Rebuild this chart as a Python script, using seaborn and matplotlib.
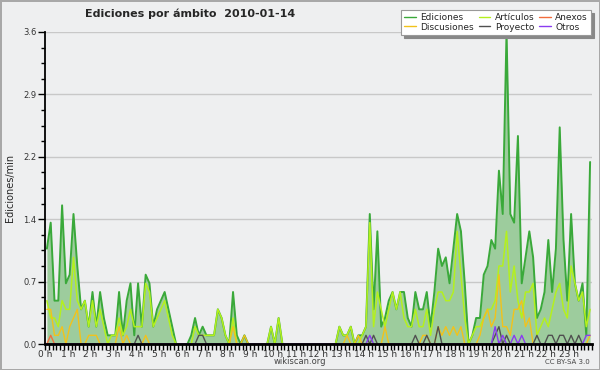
import numpy as np
import pandas as pd
import matplotlib
matplotlib.use("Agg")
import matplotlib.pyplot as plt
from matplotlib.ticker import MultipleLocator, FixedLocator, FormatStrFormatter
import seaborn as sns

# edits per minute, one value per 10-minute slot (144 slots)
ediciones = [1.1, 1.4, 0.5, 0.5, 1.6, 0.7, 0.8, 1.5, 0.9, 0.4,
             0.5, 0.2, 0.6, 0.2, 0.6, 0.3, 0.1, 0.1, 0.1, 0.6,
             0.1, 0.5, 0.7, 0.1, 0.7, 0.2, 0.8, 0.7, 0.2, 0.4,
             0.5, 0.6, 0.4, 0.2, 0.0, 0.0, 0.0, 0.0, 0.1, 0.3,
             0.1, 0.2, 0.1, 0.1, 0.1, 0.4, 0.3, 0.1, 0.0, 0.6,
             0.1, 0.0, 0.1, 0.0, 0.0, 0.0, 0.0, 0.0, 0.0, 0.2,
             0.0, 0.3, 0.0, 0.0, 0.0, 0.0, 0.0, 0.0, 0.0, 0.0,
             0.0, 0.0, 0.0, 0.0, 0.0, 0.0, 0.0, 0.2, 0.1, 0.1,
             0.2, 0.0, 0.1, 0.1, 0.2, 1.5, 0.4, 1.3, 0.2, 0.3,
             0.5, 0.6, 0.4, 0.6, 0.6, 0.3, 0.2, 0.6, 0.4, 0.4,
             0.6, 0.2, 0.6, 1.1, 0.9, 1.0, 0.7, 1.1, 1.5, 1.3,
             0.7, 0.0, 0.1, 0.3, 0.3, 0.8, 0.9, 1.2, 1.1, 2.0,
             1.5, 3.6, 1.5, 1.4, 2.4, 0.7, 1.0, 1.3, 1.0, 0.3,
             0.4, 0.6, 1.2, 0.6, 1.1, 2.5, 1.2, 0.5, 1.5, 0.7,
             0.5, 0.7, 0.1, 2.1]

articulos = [0.5, 0.3, 0.3, 0.2, 0.5, 0.4, 0.4, 1.0, 0.5, 0.4,
             0.5, 0.2, 0.5, 0.2, 0.4, 0.2, 0.0, 0.1, 0.1, 0.3,
             0.1, 0.2, 0.4, 0.2, 0.2, 0.2, 0.7, 0.6, 0.2, 0.3,
             0.4, 0.5, 0.3, 0.1, 0.0, 0.0, 0.0, 0.0, 0.0, 0.2,
             0.1, 0.1, 0.1, 0.1, 0.1, 0.4, 0.3, 0.1, 0.0, 0.3,
             0.0, 0.0, 0.0, 0.0, 0.0, 0.0, 0.0, 0.0, 0.0, 0.2,
             0.0, 0.3, 0.0, 0.0, 0.0, 0.0, 0.0, 0.0, 0.0, 0.0,
             0.0, 0.0, 0.0, 0.0, 0.0, 0.0, 0.0, 0.2, 0.1, 0.1,
             0.2, 0.0, 0.0, 0.1, 0.2, 1.4, 0.2, 0.6, 0.4, 0.2,
             0.4, 0.6, 0.4, 0.6, 0.3, 0.2, 0.2, 0.4, 0.2, 0.2,
             0.4, 0.1, 0.4, 0.6, 0.6, 0.5, 0.5, 0.6, 1.3, 0.8,
             0.3, 0.0, 0.1, 0.2, 0.2, 0.3, 0.4, 0.4, 0.5, 0.9,
             0.9, 1.3, 0.6, 0.9, 0.5, 0.3, 0.6, 0.6, 0.7, 0.1,
             0.2, 0.3, 0.2, 0.4, 0.6, 0.7, 0.4, 0.3, 0.9, 0.7,
             0.5, 0.6, 0.2, 0.4]

discusiones = [0.4, 0.4, 0.1, 0.1, 0.2, 0.0, 0.2, 0.3, 0.4, 0.0,
               0.0, 0.1, 0.1, 0.1, 0.0, 0.0, 0.0, 0.0, 0.0, 0.2,
               0.0, 0.1, 0.0, 0.0, 0.0, 0.0, 0.1, 0.0, 0.0, 0.0,
               0.0, 0.0, 0.0, 0.0, 0.0, 0.0, 0.0, 0.0, 0.0, 0.0,
               0.0, 0.0, 0.0, 0.0, 0.0, 0.0, 0.0, 0.0, 0.0, 0.2,
               0.0, 0.0, 0.1, 0.0, 0.0, 0.0, 0.0, 0.0, 0.0, 0.0,
               0.0, 0.0, 0.0, 0.0, 0.0, 0.0, 0.0, 0.0, 0.0, 0.0,
               0.0, 0.0, 0.0, 0.0, 0.0, 0.0, 0.0, 0.0, 0.0, 0.1,
               0.0, 0.0, 0.1, 0.0, 0.0, 0.0, 0.0, 0.0, 0.0, 0.2,
               0.0, 0.0, 0.0, 0.0, 0.0, 0.0, 0.0, 0.0, 0.0, 0.1,
               0.1, 0.0, 0.0, 0.2, 0.1, 0.2, 0.1, 0.2, 0.1, 0.2,
               0.0, 0.0, 0.0, 0.0, 0.1, 0.3, 0.4, 0.2, 0.3, 0.8,
               0.2, 0.2, 0.1, 0.4, 0.4, 0.5, 0.2, 0.3, 0.0, 0.0,
               0.0, 0.0, 0.0, 0.0, 0.0, 0.0, 0.0, 0.0, 0.0, 0.0,
               0.0, 0.0, 0.0, 0.1]

anexos = [0.0, 0.1] + [0.0] * 142

proyecto = [0.0] * 144
for slot, val in [(24, 0.1), (40, 0.1), (41, 0.1), (84, 0.1), (86, 0.1),
                  (97, 0.1), (100, 0.1), (103, 0.2), (118, 0.1), (119, 0.2),
                  (121, 0.1), (129, 0.1), (132, 0.1), (133, 0.1), (135, 0.1),
                  (136, 0.1), (138, 0.1), (140, 0.1)]:
    proyecto[slot] = val

otros = [0.0] * 144
for slot, val in [(85, 0.1), (118, 0.2), (120, 0.1), (123, 0.1),
                  (125, 0.1), (142, 0.1), (143, 0.1)]:
    otros[slot] = val

hour_labels = [f"{h} h" for h in range(24)]

# slot centres in hours
hours = (np.arange(len(ediciones)) + 0.5) / 6

df = pd.DataFrame({"hora": hours, "Ediciones": ediciones, "Artículos": articulos,
                   "Anexos": anexos, "Discusiones": discusiones,
                   "Proyecto": proyecto, "Otros": otros})

sns.set_theme(style="white")
plt.rcParams["font.family"] = ["DejaVu Sans"]

bg = "#eeeff0"
fig = plt.figure(figsize=(6, 3.7), dpi=100, facecolor=bg,
                 edgecolor="#a8a8a8", linewidth=2)
ax = fig.add_axes([45 / 600, 1 - 344 / 370, 547 / 600, 312 / 370])
ax.set_facecolor(bg)

ax.fill_between(df["hora"], 0, df["Ediciones"], color="#9dcc9d", lw=0, zorder=1)
colors = {"Ediciones": "#3aa93a", "Artículos": "#b4f01e", "Anexos": "#f26d3d",
          "Discusiones": "#f2c21b", "Proyecto": "#505050", "Otros": "#8a3cf0"}
widths = {"Ediciones": 1.4, "Artículos": 1.1, "Anexos": 1.0,
          "Discusiones": 1.0, "Proyecto": 1.0, "Otros": 1.0}
for name in ["Ediciones", "Artículos", "Discusiones", "Anexos", "Proyecto", "Otros"]:
    sns.lineplot(data=df, x="hora", y=name, ax=ax, color=colors[name],
                 lw=widths[name], zorder=2, label=name, legend=False)

ax.set_xlim(0, 24)
ax.set_ylim(0, 3.6)
ax.xaxis.set_major_locator(FixedLocator(range(24)))
ax.set_xticklabels(hour_labels)
ax.xaxis.set_minor_locator(MultipleLocator(1 / 6))
ax.yaxis.set_major_locator(MultipleLocator(0.72))
ax.yaxis.set_minor_locator(MultipleLocator(0.18))
ax.yaxis.set_major_formatter(FormatStrFormatter("%.1f"))

ax.tick_params(axis="x", which="both", direction="out", bottom=True,
               length=4, width=1, color="black", labelsize=6.5, pad=0,
               labelcolor="#333333")
ax.tick_params(axis="y", which="major", direction="out", left=True,
               length=5, width=1, color="black", labelsize=6, pad=1,
               labelcolor="#333333")
ax.tick_params(axis="y", which="minor", direction="out", left=True,
               length=3, width=1, color="black")

ax.yaxis.grid(True, color="#c8c8c8", lw=1)
ax.xaxis.grid(False)
ax.set_axisbelow(True)
for s in ["top", "right"]:
    ax.spines[s].set_visible(False)
ax.spines["left"].set_color("black")
ax.spines["left"].set_linewidth(1.3)
ax.spines["bottom"].set_color("black")
ax.spines["bottom"].set_linewidth(2)

ax.set_xlabel("")
ax.set_ylabel("Ediciones/min", fontsize=7, labelpad=6)

fig.text(85 / 600, 1 - 14 / 370, "Ediciones por ámbito  2010-01-14",
         fontsize=8, fontweight="bold", va="center", ha="left")
fig.text(300 / 600, 1 - 362 / 370, "wikiscan.org", fontsize=6,
         color="#444444", ha="center", va="center")
fig.text(590 / 600, 1 - 362 / 370, "CC BY-SA 3.0", fontsize=5,
         color="#444444", ha="right", va="center")

handles, labels = ax.get_legend_handles_labels()
order = ["Ediciones", "Discusiones", "Artículos", "Proyecto", "Anexos", "Otros"]
hmap = dict(zip(labels, handles))
leg = fig.legend([hmap[k] for k in order], order, ncol=3, loc="upper right",
                 bbox_to_anchor=(591 / 600, 1 - 10 / 370), fontsize=6.5,
                 frameon=True, fancybox=False,
                 shadow={"color": "#888888", "alpha": 1, "ox": 2, "oy": -2},
                 handlelength=1.3, handletextpad=0.5, columnspacing=0.5,
                 labelspacing=0.05, borderpad=0.35, borderaxespad=0)
leg.get_frame().set_edgecolor("#999999")
leg.get_frame().set_linewidth(0.8)
for line in leg.get_lines():
    line.set_linewidth(1.0)

fig.savefig("out.png", dpi=100, facecolor=fig.get_facecolor(),
            edgecolor=fig.get_edgecolor())
